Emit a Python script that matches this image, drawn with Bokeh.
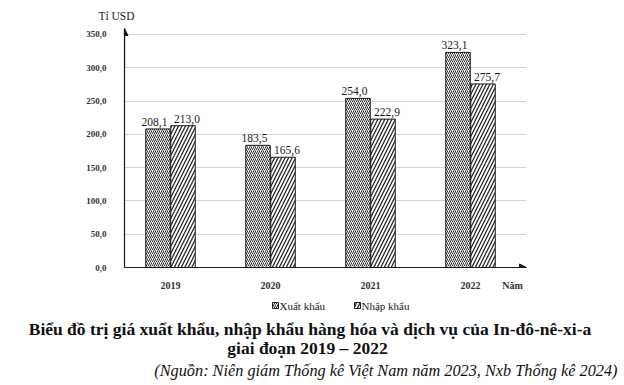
from bokeh.plotting import figure
from bokeh.models import (ColumnDataSource, FixedTicker, Arrow, NormalHead, Range1d)
from bokeh.layouts import column
from bokeh.transform import dodge
from bokeh.core.properties import value
from bokeh.embed import file_html
from bokeh.resources import INLINE

years = ["2019", "2020", "2021", "2022"]
xuat_khau = [208.1, 183.5, 254.0, 323.1]
nhap_khau = [213.0, 165.6, 222.9, 275.7]
y_ticks = [0, 50, 100, 150, 200, 250, 300, 350]
series_names = ["Xuất khẩu", "Nhập khẩu"]
title_1 = "Biểu đồ trị giá xuất khẩu, nhập khẩu hàng hóa và dịch vụ của In-đô-nê-xi-a"
title_2 = "giai đoạn 2019 – 2022"
source_note = "(Nguồn: Niên giám Thống kê Việt Nam năm 2023, Nxb Thống kê 2024)"
y_unit = "Tỉ USD"
x_unit = "Năm"

def vn(v):
    return f"{v:.1f}".replace(".", ",")

SERIF = "Liberation Serif"
INK = "#1a1a1a"
W = 620

XK_STYLE = dict(fill_color="white", line_color=INK, line_width=1,
                hatch_pattern="right_diagonal_line", hatch_color="#2a2a2a",
                hatch_scale=4, hatch_weight=1)
NK_STYLE = dict(fill_color="white", line_color=INK, line_width=1,
                hatch_pattern="right_diagonal_line", hatch_color="#2a2a2a",
                hatch_scale=7, hatch_weight=1.3)

def strip(h):
    f = figure(width=W, height=h, output_backend="svg", toolbar_location=None,
               x_range=Range1d(0, W), y_range=Range1d(h, 0),
               min_border=0, min_border_left=0, min_border_right=0,
               min_border_top=0, min_border_bottom=0, frame_align=False)
    f.axis.visible = False
    f.grid.visible = False
    f.outline_line_color = None
    return f

# ---------- top strip (unit label) ----------
top = strip(22)
top.text(x=[116], y=[15], text=[y_unit], text_font=value(SERIF),
         text_font_size="11.5px", text_align="center", text_baseline="middle",
         text_color=INK)

# ---------- main chart ----------
idx = list(range(len(years)))
src = ColumnDataSource(dict(
    x=idx, xk=xuat_khau, nk=nhap_khau,
    xk_lab=[vn(v) for v in xuat_khau], nk_lab=[vn(v) for v in nhap_khau],
))

p = figure(width=W, height=274, output_backend="svg", toolbar_location=None,
           x_range=(-0.46, 3.56), y_range=(0, 359),
           min_border_left=124, min_border_right=W - 526,
           min_border_top=6, min_border_bottom=29, frame_align=False)
p.outline_line_color = None

bw = 0.245
p.vbar(x=dodge("x", -0.125, range=p.x_range), top="xk", width=bw, source=src, **XK_STYLE)
p.vbar(x=dodge("x", 0.125, range=p.x_range), top="nk", width=bw, source=src, **NK_STYLE)

p.text(x=dodge("x", -0.16, range=p.x_range), y="xk", text="xk_lab", source=src,
       text_font=value(SERIF), text_font_size="11.5px", text_align="center",
       text_baseline="bottom", y_offset=-3, text_color=INK)
p.text(x=dodge("x", 0.165, range=p.x_range), y="nk", text="nk_lab", source=src,
       text_font=value(SERIF), text_font_size="11.5px", text_align="center",
       text_baseline="bottom", y_offset=-3, text_color=INK)

x_ticks = idx + [3.42]
p.xaxis.ticker = FixedTicker(ticks=x_ticks)
labels = {i: y for i, y in enumerate(years)}
labels[3.42] = x_unit
p.xaxis.major_label_overrides = labels
p.yaxis.ticker = FixedTicker(ticks=y_ticks)
p.yaxis.major_label_overrides = {t: vn(t) for t in y_ticks}
for ax in (p.xaxis, p.yaxis):
    ax.major_tick_line_color = None
    ax.minor_tick_line_color = None
    ax.axis_line_color = INK
    ax.axis_line_width = 1.2
    ax.major_label_text_font = SERIF
    ax.major_label_text_font_style = "bold"
    ax.major_label_text_color = "#333333"
p.yaxis.major_label_text_font_size = "9px"
p.yaxis.major_label_standoff = 12
p.xaxis.major_label_text_font_size = "10px"
p.xaxis.major_label_standoff = 6
p.xgrid.grid_line_color = None
p.ygrid.grid_line_color = "#d4d4d4"
p.ygrid.grid_line_width = 1

p.add_layout(Arrow(end=NormalHead(size=7, fill_color=INK, line_color=INK),
                   x_start=-0.46, y_start=300, x_end=-0.46, y_end=359,
                   line_color=INK, line_width=1.2))
p.add_layout(Arrow(end=NormalHead(size=7, fill_color=INK, line_color=INK),
                   x_start=3.3, y_start=0, x_end=3.56, y_end=0,
                   line_color=INK, line_width=1.2))

# ---------- bottom strip (legend, title, source) ----------
BH = 87
bot = strip(BH)
bot.rect(x=[275], y=[9], width=6, height=6, **XK_STYLE)
bot.rect(x=[357], y=[9], width=6, height=6, **NK_STYLE)
bot.text(x=[279, 361], y=[9, 9], text=series_names, text_font=value(SERIF),
         text_font_size="11px", text_align="left", text_baseline="middle",
         text_color=INK)
bot.text(x=[309.5], y=[32], text=[title_1], text_font=value(SERIF),
         text_font_style="bold", text_font_size="17.5px", text_align="center",
         text_baseline="middle", text_color="#111111")
bot.text(x=[307], y=[51], text=[title_2], text_font=value(SERIF),
         text_font_style="bold", text_font_size="17.5px", text_align="center",
         text_baseline="middle", text_color="#111111")
bot.text(x=[617], y=[74], text=[source_note], text_font=value(SERIF),
         text_font_style="italic", text_font_size="16.3px", text_align="right",
         text_baseline="middle", text_color="#111111")

layout = column(top, p, bot, spacing=0)
open("out.html", "w").write(file_html(layout, INLINE))
